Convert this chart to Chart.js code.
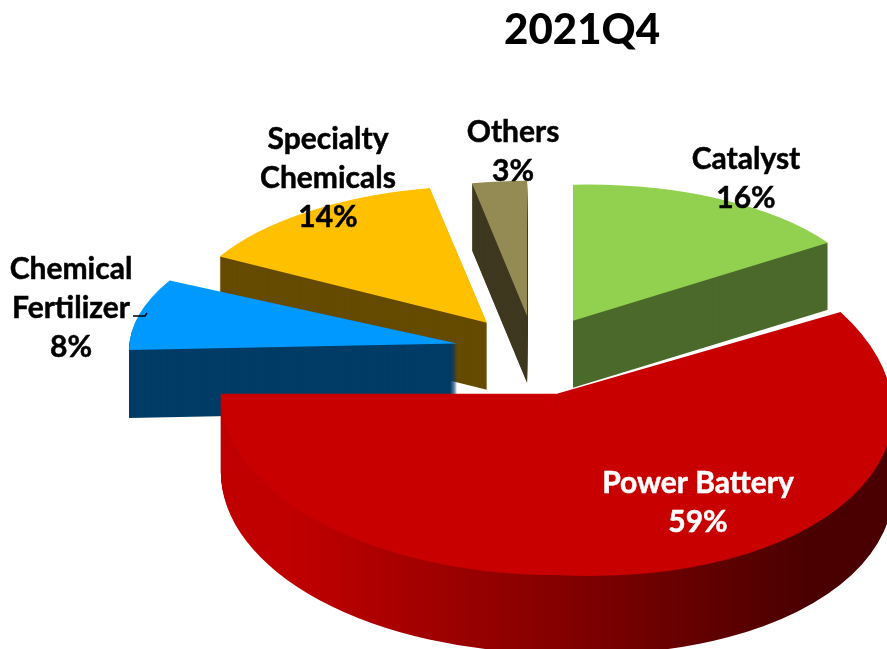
<!DOCTYPE html>
<html><head><meta charset="utf-8">
<style>html,body{margin:0;padding:0;background:#fff}canvas{display:block}</style>
<script src="https://cdn.jsdelivr.net/npm/chart.js@4"></script>
</head><body><canvas id="c" width="887" height="649"></canvas>
<script>
const categories = ['Catalyst','Power Battery','Chemical Fertilizer','Specialty Chemicals','Others'];
const shares = [16,59,8,14,3];
const labelLines = [['Catalyst','16%'],['Power Battery','59%'],['Chemical','Fertilizer','8%'],['Specialty','Chemicals','14%'],['Others','3%']];
const labelColors = ['#000','#fff','#000','#000','#000'];
const labelCentres = [[746,159],[698,483],[71,269],[328,139],[513,132]];
const topColors = ['#92d050','#c80000','#0099ff','#ffc000','#948a54'];
const wallColors = ['#4b6a2b',null,'#003c66','#654b00','#3f3820'];
const radii = [302,336,328,305,294];
const explode = [80,80,80,81,79];
const flatten = [0.45,0.54,0.436,0.45,0.46];
const depths = [67,78,68,67,67];
const shearFront = [-0.02,0.055,-0.02,0,0];   // tilt of the slice's right/near half
const drawOrder = [4,0,3,2,1];

const pie3d = {
  id:'pie3d',
  beforeDatasetDraw(){ return false; },
  beforeDatasetsDraw(chart){
    const ctx = chart.ctx, arcs = chart.getDatasetMeta(0).data;
    for(const i of drawOrder){
      const el = arcs[i], base = el.options;
      const start = el.startAngle, end = el.endAngle;
      const mid = (start+end)/2;
      const saved = el.outerRadius;
      el.outerRadius = radii[i];
      const f = flatten[i];
      const paintPart = (a,b,k,shift,color)=>{
        el.startAngle = a; el.endAngle = b;
        el.options = Object.assign({},base,{backgroundColor:color});
        ctx.save();
        ctx.translate(el.x, el.y+shift);
        ctx.scale(1,f);
        ctx.translate(Math.cos(mid)*explode[i], Math.sin(mid)*explode[i]);
        ctx.transform(1,k/f,0,1,0,0);
        ctx.translate(-el.x,-el.y);
        el.draw(ctx);
        ctx.restore();
      };
      // slices that straddle the bottom of the pie are split there, so only the right half tilts
      const straddles = start < Math.PI/2 && end > Math.PI/2;
      const paint = (shift,color)=>{
        if(straddles){
          paintPart(Math.PI/2-0.004,end,0,shift,color);
          paintPart(start,Math.PI/2,shearFront[i],shift,color);
        } else paintPart(start,end,shearFront[i],shift,color);
      };
      let wall = wallColors[i];
      if(!wall){
        const gx = radii[i];
        wall = ctx.createLinearGradient(el.x-gx+70,0,el.x+gx*0.75,0);
        wall.addColorStop(0,'#c00000');
        wall.addColorStop(0.45,'#8c0000');
        wall.addColorStop(1,'#4a0000');
      }
      for(let d=depths[i];d>0;d--) paint(d,wall);
      paint(0,topColors[i]);
      el.options = base;
      el.outerRadius = saved;
      el.startAngle = start; el.endAngle = end;
    }
  },
  afterDatasetsDraw(chart){
    const ctx = chart.ctx;
    ctx.save();
    ctx.font = 'bold 30px Lato';
    ctx.textAlign = 'center';
    ctx.textBaseline = 'middle';
    ctx.lineWidth = 0.5;
    labelLines.forEach((lines,i)=>{
      ctx.fillStyle = labelColors[i];
      ctx.strokeStyle = labelColors[i];
      lines.forEach((t,k)=>{
        const x = labelCentres[i][0], y = labelCentres[i][1]+k*39;
        ctx.fillText(t,x,y);
        ctx.strokeText(t,x,y);
      });
    });
    ctx.strokeStyle = '#000';
    ctx.lineWidth = 1.5;
    ctx.beginPath();
    ctx.moveTo(133,316);ctx.lineTo(145,316);ctx.lineTo(147,313);
    ctx.stroke();
    ctx.restore();
  }
};

new Chart(document.getElementById('c'),{
  type:'pie',
  data:{labels:categories,datasets:[{data:shares,backgroundColor:topColors,borderWidth:0,radius:300}]},
  options:{
    responsive:false,animation:false,rotation:0,
    layout:{padding:{left:409,right:227,top:0,bottom:0}},
    plugins:{
      legend:{display:false},tooltip:{enabled:false},
      title:{display:true,text:'2021Q4',align:'end',color:'#000',
        font:{family:'Lato',size:42,weight:'900',lineHeight:1.2},padding:{top:5,bottom:0}}
    }
  },
  plugins:[pie3d]
});
</script></body></html>
